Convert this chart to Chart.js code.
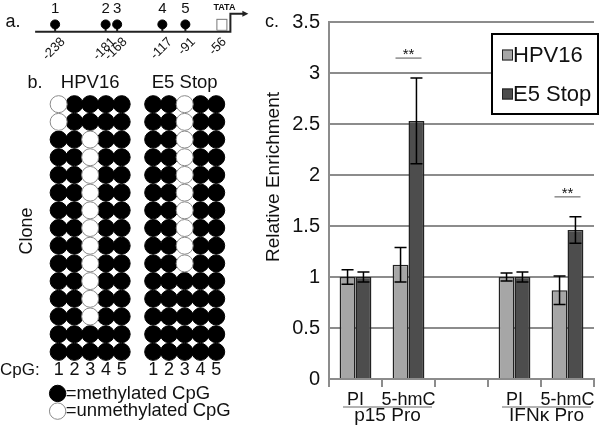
<!DOCTYPE html>
<html>
<head>
<meta charset="utf-8">
<script src="https://cdn.jsdelivr.net/npm/chart.js@4.4.1/dist/chart.umd.min.js"></script>
<style>
  body { margin: 0; background: #fff; width: 600px; height: 435px; position: relative; overflow: hidden; }
  canvas { position: absolute; }
  #clone-canvas { left: 0; top: 0; }
  #site-canvas { left: 0; top: 0; }
  #bar-canvas { left: 260px; top: 0; }
</style>
</head>
<body>
<canvas id="clone-canvas" width="260" height="435"></canvas>
<canvas id="site-canvas" width="260" height="62"></canvas>
<canvas id="bar-canvas" width="340" height="435"></canvas>
<script>
// panel a: CpG sites in the promoter
const siteNumbers = ['1', '2', '3', '4', '5'];
const sitePositions = [-238, -181, -168, -117, -91];
const tataPosition = -56;

// panel b: one string per clone, one char per CpG site (1 = methylated, 0 = unmethylated)
const cpgSites = ['1', '2', '3', '4', '5'];
const hpv16Clones = [
  '01111', '01111',
  '11011', '11011', '11011', '11011', '11011', '11011',
  '11011', '11011', '11011', '11011', '11011',
  '11111', '11111'
];
const e5StopClones = [
  '11011', '11011', '11011', '11011', '11011',
  '11011', '11011', '11011', '11011', '11011',
  '11111', '11111', '11111', '11111', '11111'
];

// panel c: relative enrichment
const barCategories = ['PI', '5-hmC', '', 'PI', '5-hmC'];
const promoters = ['p15 Pro', 'IFNκ Pro'];
const promoterCategories = [[0, 1], [3, 4]];
const hpv16Means = [1.00, 1.12, null, 1.00, 0.87];
const hpv16Errors = [0.07, 0.17, null, 0.04, 0.14];
const e5StopMeans = [1.00, 2.53, null, 1.00, 1.46];
const e5StopErrors = [0.05, 0.42, null, 0.05, 0.13];
const significantCategories = [1, 4];

const FONT = "'Liberation Sans', Arial, sans-serif";
Chart.defaults.font.family = FONT;
Chart.defaults.color = '#111';

const text = (ctx, str, x, y, size, align, base) => {
  ctx.font = size + 'px ' + FONT;
  ctx.textAlign = align || 'center';
  ctx.textBaseline = base || 'middle';
  ctx.fillText(str, x, y);
};

// ---------- panel a ----------
const promoterDiagram = {
  id: 'promoterDiagram',
  beforeDatasetsDraw(chart) {
    const ctx = chart.ctx;
    const x = chart.scales.x, y = chart.scales.y;
    const base = y.getPixelForValue(0), head = y.getPixelForValue(1);
    const tataX = x.getPixelForValue(tataPosition);
    ctx.save();
    ctx.fillStyle = '#111';
    text(ctx, 'a.', 13, 22, 18);

    ctx.strokeStyle = '#222';
    ctx.lineWidth = 2;
    ctx.beginPath();
    ctx.moveTo(x.getPixelForValue(sitePositions[0]) - 20, base);
    ctx.lineTo(tataX + 14, base);
    ctx.lineTo(tataX + 14, base - 18);
    ctx.lineTo(tataX + 28, base - 18);
    ctx.stroke();
    ctx.beginPath();
    ctx.moveTo(tataX + 32, base - 18);
    ctx.lineTo(tataX + 26, base - 21);
    ctx.lineTo(tataX + 26, base - 15);
    ctx.closePath();
    ctx.fillStyle = '#222';
    ctx.fill();

    // stems
    sitePositions.forEach(p => {
      const px = x.getPixelForValue(p);
      ctx.beginPath();
      ctx.moveTo(px, base);
      ctx.lineTo(px, head);
      ctx.stroke();
    });

    // TATA box
    ctx.strokeStyle = '#777';
    ctx.lineWidth = 1;
    ctx.fillStyle = '#fff';
    ctx.fillRect(tataX, base - 12, 10, 11);
    ctx.strokeRect(tataX + 0.5, base - 12.5, 10, 11);
    ctx.fillStyle = '#111';
    ctx.font = 'bold 9px ' + FONT;
    ctx.textAlign = 'center';
    ctx.textBaseline = 'middle';
    ctx.fillText('TATA', tataX + 8, base - 24);

    siteNumbers.forEach((n, i) => {
      text(ctx, n, x.getPixelForValue(sitePositions[i]), head - 16, 15);
    });

    sitePositions.concat([tataPosition]).forEach(p => {
      ctx.save();
      ctx.translate(x.getPixelForValue(p) + 8, base + 8);
      ctx.rotate(-45 * Math.PI / 180);
      text(ctx, String(p), 0, 0, 13, 'right', 'middle');
      ctx.restore();
    });
    ctx.restore();
  }
};

new Chart(document.getElementById('site-canvas'), {
  type: 'scatter',
  data: {
    datasets: [{
      data: sitePositions.map(p => ({ x: p, y: 1 })),
      pointRadius: 4.5,
      pointBackgroundColor: '#000',
      pointBorderColor: '#000',
      clip: false
    }]
  },
  options: {
    responsive: false,
    animation: false,
    events: [],
    layout: { padding: 0 },
    plugins: { legend: { display: false }, tooltip: { enabled: false } },
    scales: {
      x: { type: 'linear', display: false, min: -294, max: -13 },
      y: { display: false, min: -3.333, max: 3.556 }
    }
  },
  plugins: [promoterDiagram]
});

// ---------- panel b ----------
function cloneDots(clones, firstColumn, state) {
  const pts = [];
  clones.forEach((pattern, row) => {
    pattern.split('').forEach((c, col) => {
      if (c === state) pts.push({ x: firstColumn + col, y: row + 1 });
    });
  });
  return pts;
}

const groupStart = [1, 7];
const dotStyle = {
  methylated: { pointBackgroundColor: '#000', pointBorderColor: '#000' },
  unmethylated: { pointBackgroundColor: '#fff', pointBorderColor: '#8a8a8a' }
};

const cloneLabels = {
  id: 'cloneLabels',
  afterDraw(chart) {
    const ctx = chart.ctx;
    const x = chart.scales.x, y = chart.scales.y;
    ctx.save();
    ctx.fillStyle = '#111';
    const top = y.getPixelForValue(1);
    text(ctx, 'b.', 35, top - 21, 18);
    text(ctx, 'HPV16', x.getPixelForValue(groupStart[0] + 2), top - 21, 18.5);
    text(ctx, 'E5 Stop', x.getPixelForValue(groupStart[1] + 2), top - 21, 18.5);

    ctx.save();
    ctx.translate(27, 231);
    ctx.rotate(-Math.PI / 2);
    text(ctx, 'Clone', 0, 0, 18);
    ctx.restore();

    const cpgY = y.getPixelForValue(hpv16Clones.length + 1.05);
    text(ctx, 'CpG:', 0, cpgY, 17, 'left');
    groupStart.forEach(g => {
      cpgSites.forEach((s, i) => text(ctx, s, x.getPixelForValue(g + i), cpgY, 18));
    });

    // key
    const keys = [['methylated', '=methylated CpG'], ['unmethylated', '=unmethylated CpG']];
    keys.forEach((k, i) => {
      const ky = y.getPixelForValue(hpv16Clones.length + 2.35 + i);
      const kx = x.getPixelForValue(groupStart[0]) - 1;
      ctx.beginPath();
      ctx.arc(kx, ky, 8.2, 0, Math.PI * 2);
      ctx.fillStyle = dotStyle[k[0]].pointBackgroundColor;
      ctx.fill();
      ctx.lineWidth = 1;
      ctx.strokeStyle = dotStyle[k[0]].pointBorderColor;
      ctx.stroke();
      ctx.fillStyle = '#111';
      text(ctx, k[1], kx + 8, ky, 18.5, 'left');
    });
    ctx.restore();
  }
};

// unmethylated get the lower order so they are painted over their filled neighbours
new Chart(document.getElementById('clone-canvas'), {
  type: 'scatter',
  data: {
    datasets: [
      { data: cloneDots(hpv16Clones, groupStart[0], '1'), order: 2, ...dotStyle.methylated },
      { data: cloneDots(e5StopClones, groupStart[1], '1'), order: 2, ...dotStyle.methylated },
      { data: cloneDots(hpv16Clones, groupStart[0], '0'), order: 1, ...dotStyle.unmethylated },
      { data: cloneDots(e5StopClones, groupStart[1], '0'), order: 1, ...dotStyle.unmethylated }
    ].map(d => Object.assign(d, { pointRadius: 8.5, pointBorderWidth: 1, clip: false }))
  },
  options: {
    responsive: false,
    animation: false,
    events: [],
    layout: { padding: 0 },
    plugins: { legend: { display: false }, tooltip: { enabled: false } },
    scales: {
      x: { type: 'linear', display: false, min: -2.118, max: 13.176 },
      y: { display: false, min: -4.351, max: 19.162, reverse: true }
    }
  },
  plugins: [cloneLabels]
});

// ---------- panel c ----------
const barExtras = {
  id: 'barExtras',
  afterDatasetsDraw(chart) {
    const ctx = chart.ctx;
    const y = chart.scales.y;
    ctx.save();
    ctx.strokeStyle = '#000';
    ctx.lineWidth = 1.5;
    chart.data.datasets.forEach((ds, i) => {
      chart.getDatasetMeta(i).data.forEach((bar, j) => {
        const v = ds.data[j], e = ds.errors[j];
        if (v == null) return;
        const t = y.getPixelForValue(v + e), b = y.getPixelForValue(v - e);
        ctx.beginPath();
        ctx.moveTo(bar.x, t); ctx.lineTo(bar.x, b);
        ctx.moveTo(bar.x - 6, t); ctx.lineTo(bar.x + 6, t);
        ctx.moveTo(bar.x - 6, b); ctx.lineTo(bar.x + 6, b);
        ctx.stroke();
      });
    });
    ctx.restore();
  },
  afterDraw(chart) {
    const ctx = chart.ctx;
    const x = chart.scales.x, y = chart.scales.y;
    const area = chart.chartArea;
    ctx.save();
    ctx.fillStyle = '#111';
    text(ctx, 'c.', 12, 22, 18);

    ctx.save();
    ctx.translate(14, 177);
    ctx.rotate(-Math.PI / 2);
    text(ctx, 'Relative Enrichment', 0, 0, 19);
    ctx.restore();

    // significance marks
    significantCategories.forEach(c => {
      let top = Infinity;
      chart.data.datasets.forEach(ds => {
        top = Math.min(top, y.getPixelForValue(ds.data[c] + ds.errors[c]));
      });
      const cx = x.getPixelForValue(c);
      const ly = top - 20;
      ctx.strokeStyle = '#8c8c8c';
      ctx.lineWidth = 1.5;
      ctx.beginPath();
      ctx.moveTo(cx - 13, ly); ctx.lineTo(cx + 13, ly);
      ctx.stroke();
      text(ctx, '**', cx, ly + 1, 15, 'center', 'alphabetic');
    });

    // promoter group labels
    const half = (x.getPixelForValue(1) - x.getPixelForValue(0)) / 2;
    promoters.forEach((p, i) => {
      const cats = promoterCategories[i];
      const x0 = x.getPixelForValue(cats[0]) - half + 14;
      const x1 = x.getPixelForValue(cats[cats.length - 1]) + half - 3;
      const ly = area.bottom + 28;
      ctx.strokeStyle = '#9a9a9a';
      ctx.lineWidth = 1.5;
      ctx.beginPath();
      ctx.moveTo(x0, ly); ctx.lineTo(x1, ly);
      ctx.stroke();
      text(ctx, p, (x0 + x1) / 2, ly + 9, 19, 'center', 'middle');
    });

    // legend box
    const bx = 232, by = 34, bw = 106, bh = 80;
    ctx.fillStyle = '#fff';
    ctx.fillRect(bx, by, bw, bh);
    ctx.strokeStyle = '#000';
    ctx.lineWidth = 2;
    ctx.strokeRect(bx, by, bw, bh);
    chart.data.datasets.forEach((ds, i) => {
      const iy = by + 21 + i * 39;
      ctx.fillStyle = ds.backgroundColor;
      ctx.fillRect(bx + 10, iy - 5.5, 11, 11);
      ctx.strokeStyle = '#222';
      ctx.lineWidth = 1;
      ctx.strokeRect(bx + 10.5, iy - 5, 10, 10);
      ctx.fillStyle = '#111';
      text(ctx, ds.label, bx + 21, iy + 1, 22, 'left', 'middle');
    });
    ctx.restore();
  }
};

new Chart(document.getElementById('bar-canvas'), {
  type: 'bar',
  data: {
    labels: barCategories,
    datasets: [
      { label: 'HPV16', data: hpv16Means, errors: hpv16Errors, backgroundColor: '#a6a6a6' },
      { label: 'E5 Stop', data: e5StopMeans, errors: e5StopErrors, backgroundColor: '#4d4d4d' }
    ].map(d => Object.assign(d, {
      borderColor: '#222', borderWidth: 1.5, categoryPercentage: 0.6, barPercentage: 1
    }))
  },
  options: {
    responsive: false,
    animation: false,
    events: [],
    layout: { padding: { top: 22, right: 6, left: 0, bottom: 0 } },
    plugins: { legend: { display: false }, tooltip: { enabled: false } },
    scales: {
      x: {
        grid: { drawOnChartArea: false, color: '#8c8c8c', lineWidth: 2, tickLength: 8, offset: true },
        border: { color: '#8c8c8c', width: 2 },
        ticks: { font: { size: 18 }, color: '#111', padding: 2, maxRotation: 0, autoSkip: false },
        afterFit: s => { s.height = 56; }
      },
      y: {
        min: 0,
        max: 3.5,
        ticks: { stepSize: 0.5, font: { size: 20 }, color: '#111', padding: 9, callback: v => String(v) },
        grid: { color: '#8c8c8c', lineWidth: 2, drawTicks: false },
        border: { color: '#8c8c8c', width: 2 },
        afterFit: s => { s.width = 69; }
      }
    }
  },
  plugins: [barExtras]
});
</script>
</body>
</html>
